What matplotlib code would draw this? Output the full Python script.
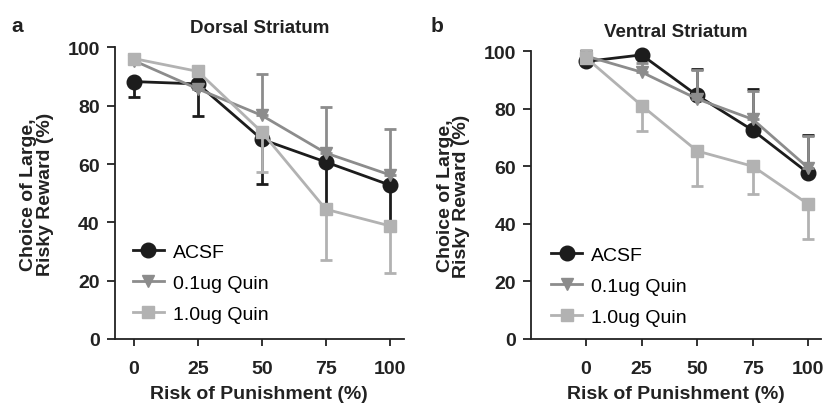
import matplotlib
matplotlib.use("Agg")
import matplotlib.pyplot as plt
import numpy as np

plt.rcParams['font.family'] = ['Liberation Sans', 'DejaVu Sans']

risk = [0, 25, 50, 75, 100]
groups = ['ACSF', '0.1ug Quin', '1.0ug Quin']

# dorsal striatum: means and error (lower, upper)
ds_acsf = [88.3, 87.5, 68.5, 60.7, 52.8]
ds_acsf_lo = [5.3, 11.0, 15.2, 15.7, 15.3]
ds_acsf_hi = [0, 0, 0, 0, 0]
ds_q01 = [95.5, 85.8, 76.7, 63.8, 56.3]
ds_q01_lo = [0, 0, 0, 0, 0]
ds_q01_hi = [0, 0, 14.2, 15.7, 15.8]
ds_q10 = [96.2, 91.8, 71.0, 44.5, 38.8]
ds_q10_lo = [0, 0, 13.7, 17.5, 16.1]
ds_q10_hi = [0, 0, 0, 0, 0]

# ventral striatum
vs_acsf = [96.4, 98.7, 84.6, 72.5, 57.6]
vs_acsf_lo = [0, 0, 0, 0, 0]
vs_acsf_hi = [0, 0, 9.3, 14.3, 13.1]
vs_q01 = [98.3, 92.7, 83.4, 76.3, 59.4]
vs_q01_lo = [0, 0, 0, 0, 0]
vs_q01_hi = [0, 3.2, 10.1, 9.9, 11.0]
vs_q10 = [97.7, 81.1, 65.3, 60.0, 46.8]
vs_q10_lo = [0, 9.0, 12.2, 9.8, 12.2]
vs_q10_hi = [2.8, 0, 0, 0, 0]

colors = ['#1c1c1c', '#8c8c8c', '#b2b2b2']
markers = ['o', 'v', 's']
msizes = [10.5, 8.5, 9]
txt = '#222222'

fig = plt.figure(figsize=(8.26, 4.06), dpi=100)
ax1 = fig.add_axes([0.139, 0.1626, 0.350, 0.718])
ax2 = fig.add_axes([0.643, 0.1626, 0.351, 0.709])


def draw(ax, series, title, xlim, legend_pos):
    for i, (m, lo, hi) in enumerate(series):
        ax.errorbar(risk, m, yerr=[lo, hi], fmt='none', ecolor=colors[i],
                    elinewidth=2.0, capsize=4, capthick=2.0, clip_on=False,
                    zorder=3 + i)
        ax.plot(risk, m, color=colors[i], marker=markers[i], ms=msizes[i],
                lw=2.0, label=groups[i], clip_on=False, zorder=3 + i)
    ax.set_xlim(*xlim)
    ax.set_ylim(0, 100)
    ax.set_xticks(risk)
    ax.set_yticks([0, 20, 40, 60, 80, 100])
    for s in ['top', 'right']:
        ax.spines[s].set_visible(False)
    for s in ['left', 'bottom']:
        ax.spines[s].set_linewidth(1.3)
        ax.spines[s].set_color(txt)
    ax.tick_params(axis='y', direction='out', length=5.8, width=1.3, color=txt,
                   labelsize=14, pad=5)
    ax.tick_params(axis='x', direction='out', length=4.8, width=1.3, color=txt,
                   labelsize=14, pad=10)
    for lab in ax.get_xticklabels() + ax.get_yticklabels():
        lab.set_fontweight('bold')
        lab.set_color(txt)
    ax.set_xlabel('Risk of Punishment (%)', fontsize=14, fontweight='bold',
                  color=txt, labelpad=6)
    ax.set_ylabel('Choice of Large,\nRisky Reward (%)', fontsize=14,
                  fontweight='bold', color=txt, labelpad=10, linespacing=0.95)
    ax.set_title(title, fontsize=13.5, fontweight='bold', color=txt, pad=11)
    ax.legend(loc='lower left', bbox_to_anchor=legend_pos, frameon=False,
              fontsize=14, handlelength=1.6, handletextpad=0.45, labelspacing=0.7,
              borderpad=0, borderaxespad=0)


draw(ax1, [(ds_acsf, ds_acsf_lo, ds_acsf_hi), (ds_q01, ds_q01_lo, ds_q01_hi),
           (ds_q10, ds_q10_lo, ds_q10_hi)], 'Dorsal Striatum', (-7.4, 105.5),
     (0.062, 0.055))
draw(ax2, [(vs_acsf, vs_acsf_lo, vs_acsf_hi), (vs_q01, vs_q01_lo, vs_q01_hi),
           (vs_q10, vs_q10_lo, vs_q10_hi)], 'Ventral Striatum', (-24.7, 105.7),
     (0.069, 0.045))

fig.text(0.014, 0.921, 'a', fontsize=15, fontweight='bold', color=txt)
fig.text(0.521, 0.921, 'b', fontsize=15, fontweight='bold', color=txt)

fig.savefig('out.png', dpi=100)
